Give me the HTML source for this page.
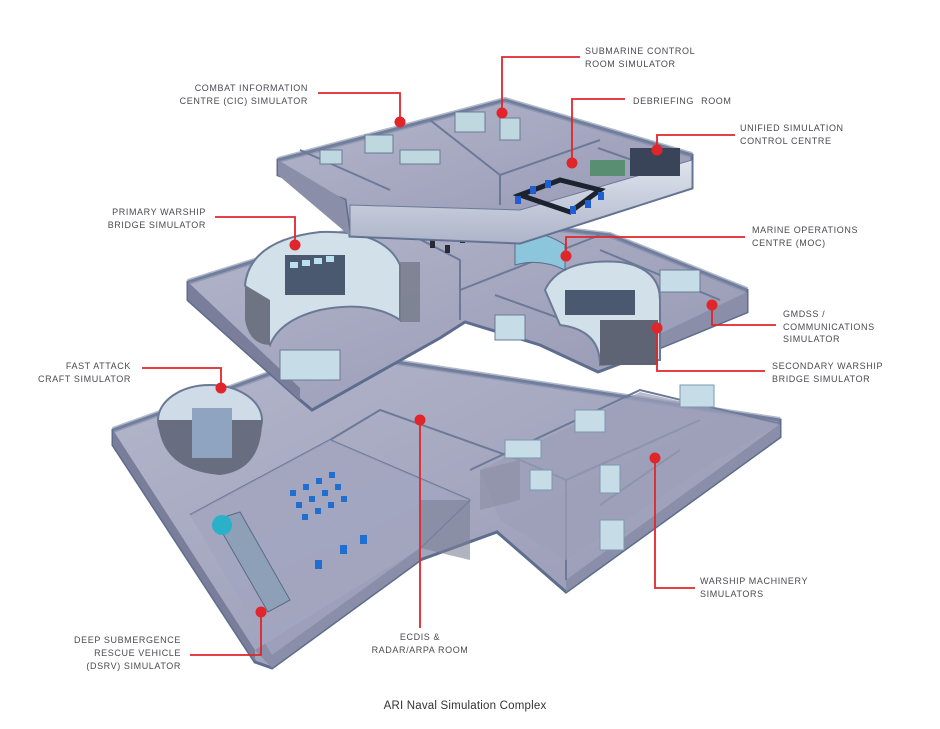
<!DOCTYPE html>
<html><head><meta charset="utf-8"><style>
html,body{margin:0;padding:0;background:#fff;}
svg{display:block;}
text{font-family:"Liberation Sans",sans-serif;font-size:9px;fill:#4a4a52;letter-spacing:0.6px;}
</style></head><body>
<svg width="940" height="729" viewBox="0 0 940 729" xmlns="http://www.w3.org/2000/svg">
<defs>
<linearGradient id="fl" x1="0" y1="0" x2="1" y2="1"><stop offset="0" stop-color="#b4b6cc"/><stop offset="1" stop-color="#9597b2"/></linearGradient>
<linearGradient id="gl" x1="0" y1="0" x2="0" y2="1"><stop offset="0" stop-color="#dfe4ee"/><stop offset="1" stop-color="#aeb5c9"/></linearGradient>
</defs>
<rect width="940" height="729" fill="#fff"/>

<!-- bottom floor -->
<polygon points="113,430 330,352 780,420 780,437 566,592 497,532 420,560 272,668 255,662 113,445" fill="url(#fl)" stroke="#5d6d8e" stroke-width="3"/>
<polygon points="113,430 255,650 255,662 113,445" fill="#7a7e9a"/>
<polygon points="255,650 420,548 420,560 272,668" fill="#8a8ea8"/>
<polygon points="566,580 780,424 780,437 566,592" fill="#8a8ea8"/>
<polyline points="113,430 330,352 780,420" fill="none" stroke="#7e8aa6" stroke-width="6" opacity="0.6"/>
<g stroke="#6c7a98" stroke-width="2" fill="none">
<polyline points="190,515 330,440 470,500"/>
<polyline points="470,500 420,548"/>
<polyline points="330,440 380,410 520,460"/>
<polyline points="470,470 640,390 780,424"/>
<polyline points="520,460 566,480 700,420"/>
<polyline points="566,480 566,580"/>
<polyline points="600,505 680,450"/>
</g>
<polygon points="190,515 330,440 470,500 420,548 272,655" fill="#a3a5bf" opacity="0.8"/>
<polygon points="480,470 640,392 780,424 700,470 566,560 500,520" fill="#9c9eb8" opacity="0.7"/>
<polygon points="420,500 470,500 470,560 420,548" fill="#7c8096" opacity="0.6"/>
<polygon points="480,470 520,460 520,500 480,510" fill="#8a8ea4" opacity="0.6"/>
<!-- dome fast attack -->
<ellipse cx="210" cy="420" rx="52" ry="35" fill="#cfdbe6" stroke="#6a7a95" stroke-width="2"/>
<path d="M158,420 Q160,470 220,475 Q262,470 262,420" fill="#686e80"/>
<rect x="192" y="408" width="40" height="50" fill="#8ea4c0"/>
<!-- DSRV tube -->
<polygon points="215,520 240,512 290,600 268,612" fill="#8ea0b8" stroke="#5a6a85"/>
<circle cx="222" cy="525" r="10" fill="#2ab0c8"/>
<g fill="#1f6fd0">
<rect x="290" y="490" width="6" height="6"/><rect x="303" y="484" width="6" height="6"/><rect x="316" y="478" width="6" height="6"/><rect x="329" y="472" width="6" height="6"/>
<rect x="296" y="502" width="6" height="6"/><rect x="309" y="496" width="6" height="6"/><rect x="322" y="490" width="6" height="6"/><rect x="335" y="484" width="6" height="6"/>
<rect x="302" y="514" width="6" height="6"/><rect x="315" y="508" width="6" height="6"/><rect x="328" y="502" width="6" height="6"/><rect x="341" y="496" width="6" height="6"/>
<rect x="315" y="560" width="7" height="9"/><rect x="340" y="545" width="7" height="9"/><rect x="360" y="535" width="7" height="9"/>
</g>
<g fill="#c6dde8" stroke="#7a98b0">
<rect x="505" y="440" width="36" height="18"/><rect x="575" y="410" width="30" height="22"/><rect x="680" y="385" width="34" height="22"/>
<rect x="530" y="470" width="22" height="20"/><rect x="600" y="465" width="20" height="28"/><rect x="600" y="520" width="24" height="30"/>
</g>

<!-- middle floor -->
<polygon points="188,282 410,212 610,235 747,290 747,312 630,360 598,372 540,345 465,322 440,338 312,410 300,400 188,300" fill="url(#fl)" stroke="#5d6d8e" stroke-width="3"/>
<polygon points="188,282 300,388 300,400 188,300" fill="#7a7e9a"/>
<polygon points="630,348 747,292 747,312 630,360" fill="#8a8ea8"/>
<polyline points="188,282 410,212 610,235 747,290" fill="none" stroke="#7e8aa6" stroke-width="6" opacity="0.6"/>
<g stroke="#6c7a98" stroke-width="2" fill="none">
<polyline points="398,228 460,260 460,320"/>
<polyline points="460,290 600,235"/>
<polyline points="495,295 620,340"/>
<polyline points="600,250 720,300"/>
</g>
<path d="M245,285 Q250,240 320,232 Q385,230 400,265 L400,320 Q370,300 320,310 Q280,320 270,345 Z" fill="#d2e0ea" stroke="#6a7a95" stroke-width="2"/>
<path d="M245,285 L245,320 Q250,345 270,345 L270,300 Z" fill="#6e7484"/>
<rect x="285" y="255" width="60" height="40" fill="#4a5870"/>
<g fill="#b8e0f0"><rect x="290" y="262" width="8" height="6"/><rect x="302" y="260" width="8" height="6"/><rect x="314" y="258" width="8" height="6"/><rect x="326" y="256" width="8" height="6"/></g>
<rect x="400" y="262" width="20" height="60" fill="#767a8a" opacity="0.8"/>
<path d="M545,290 Q560,258 620,262 Q660,268 660,300 L660,360 L600,365 Q600,330 560,325 Z" fill="#d2e0ea" stroke="#6a7a95" stroke-width="2"/>
<rect x="600" y="320" width="58" height="45" fill="#5f6474"/>
<rect x="565" y="290" width="70" height="25" fill="#4a5870"/>
<path d="M515,235 Q540,228 565,245 L565,270 Q540,258 515,265 Z" fill="#8cc6dc" stroke="#5a6a85"/>
<g fill="#2a2a34"><rect x="430" y="225" width="5" height="8"/><rect x="445" y="230" width="5" height="8"/><rect x="460" y="235" width="5" height="8"/><rect x="430" y="240" width="5" height="8"/><rect x="445" y="245" width="5" height="8"/></g>
<rect x="280" y="350" width="60" height="30" fill="#c6dde8" stroke="#6a7a95"/>
<rect x="495" y="315" width="30" height="25" fill="#c6dde8" stroke="#6a7a95"/>
<rect x="660" y="270" width="40" height="22" fill="#c6dde8" stroke="#6a7a95"/>

<!-- top floor -->
<polygon points="278,160 505,100 692,155 692,188 520,243 350,236 345,200 278,175" fill="url(#fl)" stroke="#5d6d8e" stroke-width="3"/>
<polygon points="278,160 345,200 350,236 278,175" fill="#8a8ea8"/>
<polygon points="350,205 520,210 692,160 692,188 520,243 350,236" fill="url(#gl)" stroke="#6c7a98"/>
<polyline points="278,160 505,100 692,155" fill="none" stroke="#7e8aa6" stroke-width="6" opacity="0.6"/>
<g stroke="#6c7a98" stroke-width="2" fill="none">
<polyline points="300,150 390,190"/>
<polyline points="430,120 500,175 500,205"/>
<polyline points="500,175 600,140"/>
<polyline points="598,148 660,170"/>
</g>
<g fill="#bfd8e0" stroke="#6a7a95">
<rect x="320" y="150" width="22" height="14"/><rect x="365" y="135" width="28" height="18"/><rect x="400" y="150" width="40" height="14"/><rect x="455" y="112" width="30" height="20"/><rect x="500" y="118" width="20" height="22"/>
</g>
<path d="M520,195 L560,180 L600,190 L570,212 Z" fill="none" stroke="#1c2230" stroke-width="5"/>
<g fill="#1f5fd0"><rect x="515" y="196" width="6" height="8"/><rect x="530" y="186" width="6" height="8"/><rect x="545" y="180" width="6" height="8"/><rect x="570" y="206" width="6" height="8"/><rect x="585" y="200" width="6" height="8"/><rect x="598" y="192" width="6" height="8"/></g>
<rect x="590" y="160" width="35" height="16" fill="#5a8e72"/>
<rect x="630" y="148" width="50" height="28" fill="#3a4458"/>

<!-- red leaders -->
<g stroke="#e0262b" stroke-width="1.8" fill="none">
<polyline points="580,57 502,57 502,113"/>
<polyline points="318,93 400,93 400,122"/>
<polyline points="625,99 572,99 572,163"/>
<polyline points="735,135 657,135 657,150"/>
<polyline points="215,217 295,217 295,245"/>
<polyline points="745,237 566,237 566,256"/>
<polyline points="712,305 712,325 776,325"/>
<polyline points="657,328 657,371 765,371"/>
<polyline points="142,368 221,368 221,388"/>
<polyline points="420,420 420,628"/>
<polyline points="655,458 655,588 695,588"/>
<polyline points="261,612 261,655 190,655"/>
</g>
<g fill="#e0262b">
<circle cx="502" cy="113" r="5.5"/><circle cx="400" cy="122" r="5.5"/><circle cx="572" cy="163" r="5.5"/><circle cx="657" cy="150" r="5.5"/>
<circle cx="295" cy="245" r="5.5"/><circle cx="566" cy="256" r="5.5"/><circle cx="712" cy="305" r="5.5"/><circle cx="657" cy="328" r="5.5"/>
<circle cx="221" cy="388" r="5.5"/><circle cx="420" cy="420" r="5.5"/><circle cx="655" cy="458" r="5.5"/><circle cx="261" cy="612" r="5.5"/>
</g>

<text x="585" y="54">SUBMARINE CONTROL</text><text x="585" y="67">ROOM SIMULATOR</text>
<text x="308" y="91" text-anchor="end">COMBAT INFORMATION</text><text x="308" y="104" text-anchor="end">CENTRE (CIC) SIMULATOR</text>
<text x="633" y="104" style="word-spacing:4px">DEBRIEFING ROOM</text>
<text x="740" y="131">UNIFIED SIMULATION</text><text x="740" y="144">CONTROL CENTRE</text>
<text x="206" y="215" text-anchor="end">PRIMARY WARSHIP</text><text x="206" y="228" text-anchor="end">BRIDGE SIMULATOR</text>
<text x="752" y="233">MARINE OPERATIONS</text><text x="752" y="246">CENTRE (MOC)</text>
<text x="783" y="317">GMDSS /</text><text x="783" y="330">COMMUNICATIONS</text><text x="783" y="342">SIMULATOR</text>
<text x="772" y="369">SECONDARY WARSHIP</text><text x="772" y="382">BRIDGE SIMULATOR</text>
<text x="131" y="369" text-anchor="end">FAST ATTACK</text><text x="131" y="382" text-anchor="end">CRAFT SIMULATOR</text>
<text x="420" y="640" text-anchor="middle">ECDIS &amp;</text><text x="420" y="653" text-anchor="middle">RADAR/ARPA ROOM</text>
<text x="700" y="584">WARSHIP MACHINERY</text><text x="700" y="597">SIMULATORS</text>
<text x="181" y="643" text-anchor="end">DEEP SUBMERGENCE</text><text x="181" y="656" text-anchor="end">RESCUE VEHICLE</text><text x="181" y="669" text-anchor="end">(DSRV) SIMULATOR</text>
<text x="465" y="709" text-anchor="middle" style="font-size:11.5px;letter-spacing:0.2px;fill:#333">ARI Naval Simulation Complex</text>
</svg>
</body></html>
